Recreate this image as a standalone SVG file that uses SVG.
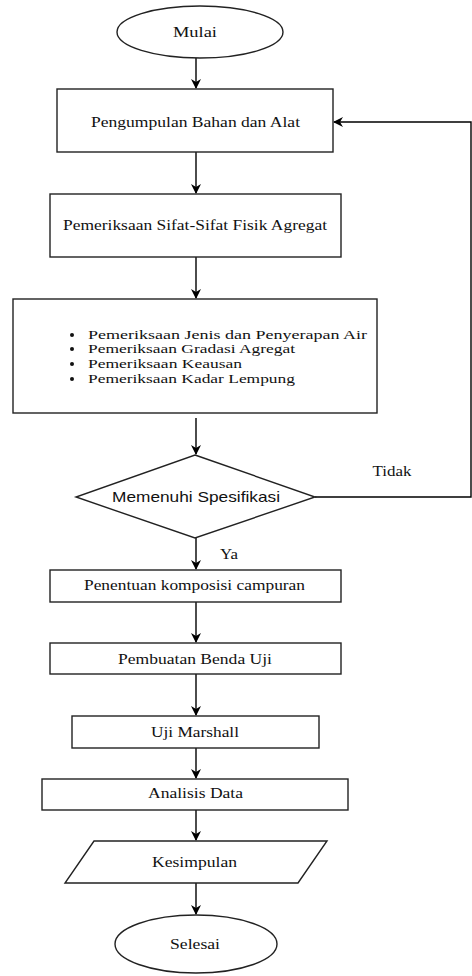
<svg xmlns="http://www.w3.org/2000/svg" width="472" height="976" viewBox="0 0 472 976">
<defs>
<marker id="ah" markerWidth="10" markerHeight="10" refX="9" refY="5" orient="auto" markerUnits="userSpaceOnUse">
<path d="M0,0 L10,5 L0,10 L3,5 Z" fill="#000"/>
</marker>
<style>
.s{fill:#fff;stroke:#222;stroke-width:1.4}
.t{font-family:"Liberation Serif","DejaVu Serif","Times New Roman",serif;font-size:15px;fill:#111;text-anchor:middle}
.l{font-family:"Liberation Serif","DejaVu Serif","Times New Roman",serif;font-size:13.5px;fill:#111}
.a{font-family:"Liberation Sans",Arial,sans-serif;font-size:15px;fill:#111;text-anchor:middle}
.c{fill:none;stroke:#000;stroke-width:1.4;marker-end:url(#ah)}
</style>
</defs>
<rect width="472" height="976" fill="#fff"/>
<g id="connectors">
<path class="c" d="M196,58 V88"/>
<path class="c" d="M196,152 V193"/>
<path class="c" d="M196,257 V298"/>
<path class="c" d="M196,418 V454"/>
<path class="c" d="M315,497 H471 V122 H334"/>
<path class="c" d="M196,538 V569"/>
<path class="c" d="M196,602 V642"/>
<path class="c" d="M196,674 V715"/>
<path class="c" d="M196,748 V778"/>
<path class="c" d="M196,810 V840"/>
<path class="c" d="M196,883 V914"/>
<text class="t" x="392" y="476" textLength="39" lengthAdjust="spacingAndGlyphs">Tidak</text>
<text class="t" x="229" y="559" textLength="18" lengthAdjust="spacingAndGlyphs">Ya</text>
</g>
<g id="mulai">
<ellipse class="s" cx="200" cy="32" rx="83" ry="26"/>
<text class="t" x="195" y="37" textLength="44" lengthAdjust="spacingAndGlyphs">Mulai</text>
</g>
<g id="pengumpulan">
<rect class="s" x="57" y="89" width="276" height="63"/>
<text class="t" x="195.5" y="127" textLength="209" lengthAdjust="spacingAndGlyphs">Pengumpulan Bahan dan Alat</text>
</g>
<g id="sifat">
<rect class="s" x="50" y="194" width="291" height="63"/>
<text class="t" x="195" y="230" textLength="264" lengthAdjust="spacingAndGlyphs">Pemeriksaan Sifat-Sifat Fisik Agregat</text>
</g>
<g id="pemeriksaan">
<rect class="s" x="13" y="299" width="364" height="114"/>
<circle cx="72" cy="335" r="2" fill="#111"/>
<circle cx="72" cy="349" r="2" fill="#111"/>
<circle cx="72" cy="364" r="2" fill="#111"/>
<circle cx="72" cy="379" r="2" fill="#111"/>
<text class="l" x="88" y="339" textLength="279" lengthAdjust="spacingAndGlyphs">Pemeriksaan Jenis dan Penyerapan Air</text>
<text class="l" x="88" y="353" textLength="207" lengthAdjust="spacingAndGlyphs">Pemeriksaan Gradasi Agregat</text>
<text class="l" x="88" y="368" textLength="154" lengthAdjust="spacingAndGlyphs">Pemeriksaan Keausan</text>
<text class="l" x="88" y="383" textLength="207" lengthAdjust="spacingAndGlyphs">Pemeriksaan Kadar Lempung</text>
</g>
<g id="spesifikasi">
<polygon class="s" points="195,455 315,497 195,538 76,497"/>
<text class="a" x="196" y="502" textLength="168" lengthAdjust="spacingAndGlyphs">Memenuhi Spesifikasi</text>
</g>
<g id="penentuan">
<rect class="s" x="50" y="570" width="291" height="32"/>
<text class="t" x="194.5" y="590" textLength="221" lengthAdjust="spacingAndGlyphs">Penentuan komposisi campuran</text>
</g>
<g id="pembuatan">
<rect class="s" x="50" y="643" width="291" height="31"/>
<text class="t" x="195" y="664" textLength="154" lengthAdjust="spacingAndGlyphs">Pembuatan Benda Uji</text>
</g>
<g id="marshall">
<rect class="s" x="72" y="716" width="247" height="32"/>
<text class="t" x="195" y="737" textLength="88" lengthAdjust="spacingAndGlyphs">Uji Marshall</text>
</g>
<g id="analisis">
<rect class="s" x="42" y="779" width="306" height="31"/>
<text class="t" x="195.5" y="798" textLength="95" lengthAdjust="spacingAndGlyphs">Analisis Data</text>
</g>
<g id="kesimpulan">
<polygon class="s" points="94,841 327,841 298,883 65,883"/>
<text class="t" x="194.5" y="867" textLength="85" lengthAdjust="spacingAndGlyphs">Kesimpulan</text>
</g>
<g id="selesai">
<ellipse class="s" cx="196" cy="944" rx="81" ry="29"/>
<text class="t" x="195" y="949" textLength="50" lengthAdjust="spacingAndGlyphs">Selesai</text>
</g>
</svg>
